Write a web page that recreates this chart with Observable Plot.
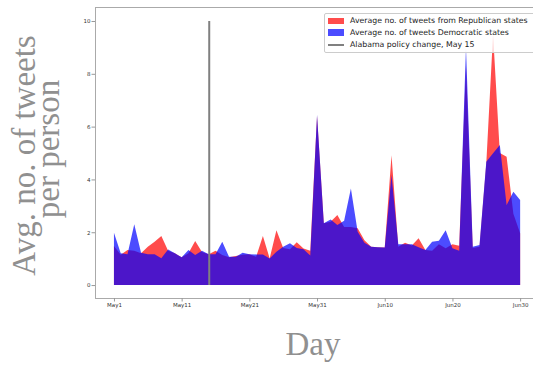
<!DOCTYPE html>
<html><head><meta charset="utf-8">
<script src="https://cdn.jsdelivr.net/npm/d3@7"></script>
<script src="https://cdn.jsdelivr.net/npm/@observablehq/plot@0.6"></script>
<style>
body{margin:0;overflow:hidden;background:#fff;}
#wrap{position:relative;width:533px;height:365px;overflow:hidden;}
#wrap svg{position:absolute;left:0;top:0;}
.legend{position:absolute;left:324px;top:12.5px;width:230px;height:38px;background:rgba(255,255,255,0.8);border:1px solid #ccc;border-radius:2px;font-family:"DejaVu Sans",sans-serif;font-size:7.8px;color:#222;}
.legend .row{position:absolute;left:0;height:10px;width:100%;}
.legend .sw{position:absolute;left:2.5px;width:16.5px;height:6.7px;}
.legend .ln{position:absolute;left:2.5px;width:16.5px;height:1.6px;background:gray;}
.legend .tx{position:absolute;left:25px;white-space:nowrap;line-height:10px;}
</style></head><body><div id="wrap"></div>
<script>
const days = ["2019-05-01","2019-05-02","2019-05-03","2019-05-04","2019-05-05","2019-05-06","2019-05-07","2019-05-08","2019-05-09","2019-05-10",
"2019-05-11","2019-05-12","2019-05-13","2019-05-14","2019-05-15","2019-05-16","2019-05-17","2019-05-18","2019-05-19","2019-05-20",
"2019-05-21","2019-05-22","2019-05-23","2019-05-24","2019-05-25","2019-05-26","2019-05-27","2019-05-28","2019-05-29","2019-05-30",
"2019-05-31","2019-06-01","2019-06-02","2019-06-03","2019-06-04","2019-06-05","2019-06-06","2019-06-07","2019-06-08","2019-06-09",
"2019-06-10","2019-06-11","2019-06-12","2019-06-13","2019-06-14","2019-06-15","2019-06-16","2019-06-17","2019-06-18","2019-06-19",
"2019-06-20","2019-06-21","2019-06-22","2019-06-23","2019-06-24","2019-06-25","2019-06-26","2019-06-27","2019-06-28","2019-06-29","2019-06-30"];
const republican = [1.48,1.15,1.33,1.30,1.20,1.45,1.64,1.86,1.30,1.20,
1.05,1.20,1.67,1.25,1.17,1.30,1.14,1.05,1.10,1.15,
1.17,1.07,1.86,1.01,2.08,1.40,1.36,1.62,1.38,1.30,
6.40,2.34,2.40,2.65,2.20,2.20,2.15,1.70,1.45,1.43,
1.42,4.92,1.45,1.60,1.50,1.77,1.33,1.30,1.55,1.39,
1.55,1.49,8.30,1.40,1.45,4.60,9.50,5.00,4.86,2.70,1.96];
const democratic = [1.98,1.20,1.17,2.30,1.22,1.17,1.17,1.02,1.35,1.20,
1.05,1.33,1.14,1.30,1.17,1.17,1.64,1.07,1.07,1.22,
1.17,1.16,1.16,1.01,1.26,1.45,1.58,1.40,1.36,1.12,
6.45,2.34,2.48,2.27,2.44,3.66,2.02,1.60,1.45,1.43,
1.42,4.17,1.55,1.55,1.55,1.43,1.33,1.64,1.68,2.08,
1.39,1.30,9.00,1.45,1.52,4.67,4.99,5.30,3.03,3.53,3.22];
const policyDate = "2019-05-15";
const xTickDates = ["2019-05-01","2019-05-11","2019-05-21","2019-05-31","2019-06-10","2019-06-20","2019-06-30"];
const xTickLabels = ["May1","May11","May21","May31","Jun10","Jun20","Jun30"];
const yTicks = [0,2,4,6,8,10];
const legendLabels = ["Average no. of tweets from Republican states","Average no. of tweets Democratic states","Alabama policy change, May 15"];
const yLabelLines = ["Avg. no. of tweets","per person"];
const xLabel = "Day";

const data = days.map((d,i)=>({date:new Date(d), rep:republican[i], dem:democratic[i]}));
const day0 = new Date(days[0]).getTime();
const xDomain = [new Date(day0 - 2.8*864e5), new Date(day0 + 61.9*864e5)];
const yDomain = [-0.49, 10.53];
const labelMap = new Map(xTickDates.map((d,i)=>[new Date(d).getTime(), xTickLabels[i]]));

const plot = Plot.plot({
  width:533, height:365,
  marginLeft:95, marginRight:0, marginTop:7, marginBottom:67,
  style:{background:"transparent", fontFamily:"DejaVu Sans, sans-serif"},
  x:{type:"utc", domain:xDomain},
  y:{domain:yDomain},
  marks:[
    Plot.areaY(data,{x:"date", y:"rep", fill:"red", fillOpacity:0.7}),
    Plot.areaY(data,{x:"date", y:"dem", fill:"blue", fillOpacity:0.7}),
    Plot.ruleX([new Date(policyDate)],{y1:0, y2:10, stroke:"gray", strokeWidth:2}),
    Plot.ruleX([xDomain[0]],{stroke:"#aaa", strokeWidth:1}),
    Plot.ruleY([yDomain[0]],{stroke:"#aaa", strokeWidth:1}),
    Plot.ruleY([yDomain[1]],{stroke:"#aaa", strokeWidth:1}),
    Plot.axisY(yTicks,{tickSize:3.5, tickPadding:1.5, fontSize:5.5, stroke:"#999", fill:"#333", label:null}),
    Plot.axisX(xTickDates.map(d=>new Date(d)),{tickSize:3.5, tickPadding:1.5, fontSize:5.5, stroke:"#999", fill:"#333", label:null,
      tickFormat:d=>labelMap.get(d.getTime())})
  ]
});
const wrap = document.getElementById("wrap");
wrap.appendChild(plot);

// axis titles
const ov = d3.select(wrap).append("svg").attr("width",533).attr("height",365)
  .style("pointer-events","none");
const ty = ov.append("g").attr("font-family","Liberation Serif, serif").attr("font-size",33).attr("fill","#909090").attr("text-anchor","middle");
ty.append("text").attr("transform","translate(35,155.5) rotate(-90)").text(yLabelLines[0]);
ty.append("text").attr("transform","translate(59,149) rotate(-90)").text(yLabelLines[1]);
ov.append("text").attr("x",313).attr("y",355).attr("font-family","Liberation Serif, serif").attr("font-size",33)
  .attr("fill","#909090").attr("text-anchor","middle").text(xLabel);

// legend
const lg = d3.select(wrap).append("div").attr("class","legend");
const rowsTop = [2.5, 14.3, 26.8];
const swatch = [{bg:"rgba(255,0,0,0.7)"},{bg:"rgba(0,0,255,0.7)"},{line:true}];
legendLabels.forEach((t,i)=>{
  const r = lg.append("div").attr("class","row").style("top", rowsTop[i]+"px");
  if (swatch[i].line) r.append("div").attr("class","ln").style("top","4.2px");
  else r.append("div").attr("class","sw").style("top","1.6px").style("background", swatch[i].bg);
  r.append("div").attr("class","tx").style("top","0px").text(t);
});
</script></body></html>
